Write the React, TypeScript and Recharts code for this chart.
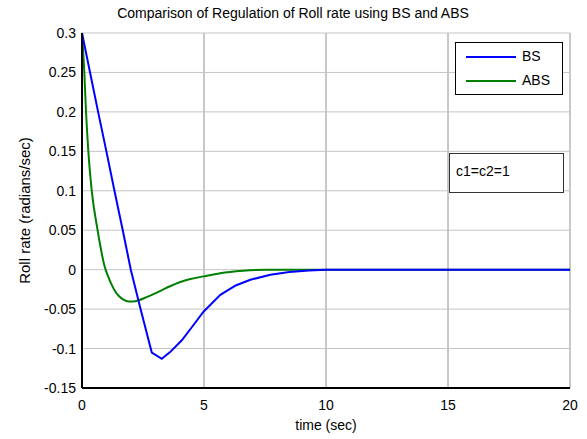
import React from 'react';
import { CartesianGrid, Line, LineChart, XAxis, YAxis } from 'recharts';

// BS response
const bsTime = [0, 0.33, 0.66, 1.0, 1.33, 1.67, 2.0, 2.4, 2.86, 3.27, 3.61, 4.09, 4.5, 4.98, 5.67, 6.3, 6.9, 7.72, 8.5, 9.3, 10, 12, 15, 20];
const bsRate = [0.3, 0.25, 0.2, 0.15, 0.1, 0.05, 0, -0.05, -0.105, -0.113, -0.1045, -0.0895, -0.073, -0.0533, -0.032, -0.02, -0.0128, -0.0064, -0.003, -0.001, 0, 0, 0, 0];

// ABS response
const absTime = [0, 0.095, 0.165, 0.26, 0.4, 0.64, 0.8, 0.92, 1.05, 1.2, 1.35, 1.5, 1.7, 1.9, 2.1, 2.3, 2.6, 2.93, 3.3, 3.61, 4.0, 4.4, 4.98, 5.67, 6.6, 7.6, 8, 10, 15, 20];
const absRate = [0.3, 0.25, 0.2, 0.15, 0.1, 0.05, 0.022, 0.005, -0.007, -0.018, -0.027, -0.033, -0.038, -0.0405, -0.0403, -0.039, -0.0355, -0.031, -0.0255, -0.021, -0.016, -0.0122, -0.0085, -0.0045, -0.0015, 0, 0, 0, 0, 0];

const xTicks = [0, 5, 10, 15, 20];
const yTicks = [-0.15, -0.1, -0.05, 0, 0.05, 0.1, 0.15, 0.2, 0.25, 0.3];

const bsData = bsTime.map((t, i) => ({ t, v: bsRate[i] }));
const absData = absTime.map((t, i) => ({ t, v: absRate[i] }));

const font = '"Liberation Sans", Arial, sans-serif';

export default function App() {
  return (
    <div style={{ position: 'relative', width: 587, height: 439, fontFamily: font, background: '#fff' }}>
      <style>{'body{margin:0}'}</style>
      <div style={{ position: 'absolute', top: 5, left: 193, width: 200, textAlign: 'center', fontSize: 14, whiteSpace: 'nowrap', display: 'flex', justifyContent: 'center' }}>
        Comparison of Regulation of Roll rate using BS and ABS
      </div>
      <LineChart width={587} height={439} margin={{ top: 33, right: 17, bottom: 0, left: 14 }}>
        <CartesianGrid horizontal={false} stroke="#909090" />
        <CartesianGrid vertical={false} stroke="#c4c4c4" />
        <XAxis
          dataKey="t"
          type="number"
          domain={[0, 20]}
          ticks={xTicks}
          allowDuplicatedCategory={false}
          height={51}
          tickSize={0}
          tickMargin={12}
          tickLine={false}
          axisLine={{ stroke: '#000', strokeWidth: 2 }}
          tick={{ fill: '#000', fontSize: 14 }}
          label={{ value: 'time (sec)', position: 'insideBottom', offset: 9, fill: '#000', fontSize: 14 }}
        />
        <XAxis xAxisId="top" orientation="top" type="number" domain={[0, 20]} height={0} tick={false} tickLine={false} axisLine={{ stroke: '#000', strokeWidth: 1.5 }} />
        <YAxis
          type="number"
          domain={[-0.15, 0.3]}
          ticks={yTicks}
          width={68}
          tickSize={0}
          tickMargin={6}
          tickLine={false}
          axisLine={{ stroke: '#000', strokeWidth: 2 }}
          tick={{ fill: '#000', fontSize: 14 }}
          label={{ value: 'Roll rate (radians/sec)', angle: -90, position: 'insideLeft', offset: 11, fill: '#000', fontSize: 15, style: { textAnchor: 'middle' } }}
        />
        <YAxis yAxisId="right" orientation="right" domain={[-0.15, 0.3]} width={0} tick={false} tickLine={false} axisLine={{ stroke: '#000', strokeWidth: 1.5 }} />
        <Line data={absData} dataKey="v" type="monotone" stroke="#008000" strokeWidth={2} dot={false} isAnimationActive={false} />
        <Line data={bsData} dataKey="v" type="linear" stroke="#0000ff" strokeWidth={2} dot={false} isAnimationActive={false} />
      </LineChart>
      <div style={{ position: 'absolute', left: 455, top: 42, width: 106, height: 51, border: '1px solid #000', background: '#fff', fontSize: 14 }}>
        <div style={{ position: 'absolute', left: 10, top: 13, width: 50, height: 2, background: '#0000ff' }} />
        <div style={{ position: 'absolute', left: 66, top: 5 }}>BS</div>
        <div style={{ position: 'absolute', left: 10, top: 37, width: 50, height: 2, background: '#008000' }} />
        <div style={{ position: 'absolute', left: 66, top: 29 }}>ABS</div>
      </div>
      <div style={{ position: 'absolute', left: 449, top: 153, width: 113, height: 38, border: '1px solid #333', background: '#fff', fontSize: 14 }}>
        <div style={{ position: 'absolute', left: 6, top: 9 }}>c1=c2=1</div>
      </div>
    </div>
  );
}
